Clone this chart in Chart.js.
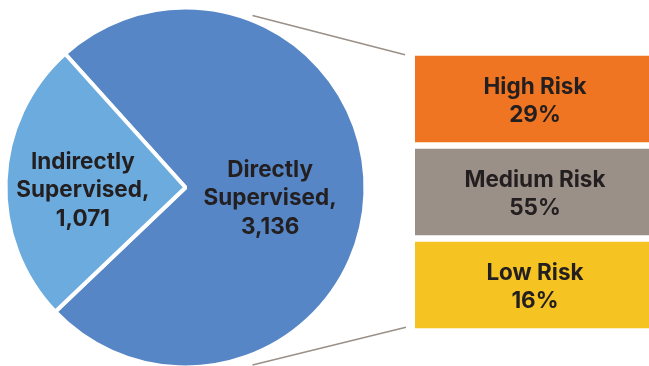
<!DOCTYPE html>
<html>
<head>
<meta charset="utf-8">
<script src="https://cdn.jsdelivr.net/npm/chart.js@4/dist/chart.umd.min.js"></script>
<style>
  html, body { margin: 0; padding: 0; background: #fff; }
  #wrap { position: relative; width: 649px; height: 366px; overflow: hidden; background: #fff; }
  #supervision-chart { position: absolute; left: 0; top: 0; }
  #risk-chart { position: absolute; left: 415px; top: 0; }
</style>
</head>
<body>
<div id="wrap">
  <canvas id="supervision-chart" width="649" height="375"></canvas>
  <canvas id="risk-chart" width="240" height="366"></canvas>
</div>
<script>
// Supervision split
const supervisionLabels = [['Directly', 'Supervised,'], ['Indirectly', 'Supervised,']];
const supervisionCounts = [3136, 1071];
const supervisionColors = ['#5686c6', '#6babde'];

// Risk breakdown of the directly supervised group (percent)
const riskLabels = ['High Risk', 'Medium Risk', 'Low Risk'];
const riskShare = [29, 55, 16];
const riskColors = ['#ef7522', '#9a9087', '#f5c322'];

const FONT = '"Inter", "DejaVu Sans", sans-serif';
const TEXT_COLOR = '#231f20';
const LINE_H = 28.5;

function drawLines(ctx, lines, x, y) {
  const start = y - (lines.length - 1) * LINE_H / 2;
  lines.forEach((line, i) => ctx.fillText(line, x, start + i * LINE_H));
}

// Risk boxes: one full-width band per category, text inside
const riskBoxText = {
  id: 'riskBoxText',
  afterDatasetsDraw(chart) {
    const ctx = chart.ctx;
    const bars = chart.getDatasetMeta(0).data;
    ctx.save();
    ctx.font = 'bold 22.5px ' + FONT;
    ctx.fillStyle = TEXT_COLOR;
    ctx.textAlign = 'center';
    ctx.textBaseline = 'middle';
    bars.forEach((bar, i) => {
      const cx = (bar.x + bar.base) / 2;
      drawLines(ctx, [riskLabels[i], riskShare[i] + '%'], cx, bar.y + 2);
    });
    ctx.restore();
  }
};

const riskChart = new Chart(document.getElementById('risk-chart'), {
  type: 'bar',
  data: {
    labels: riskLabels,
    datasets: [{
      data: riskShare.map(() => [0, 1]),
      backgroundColor: riskColors,
      borderWidth: 0,
      borderSkipped: false,
      barPercentage: 0.93,
      categoryPercentage: 1
    }]
  },
  options: {
    indexAxis: 'y',
    responsive: false,
    animation: false,
    events: [],
    layout: { padding: { top: 52.5, bottom: 34.5, left: 0, right: 0 } },
    scales: {
      x: { display: false, min: 0, max: 1 },
      y: { display: false }
    },
    plugins: { legend: { display: false }, tooltip: { enabled: false } }
  },
  plugins: [riskBoxText]
});

// Slice labels and the connector lines toward the risk boxes
const pieExtras = {
  id: 'pieExtras',
  afterDatasetsDraw(chart) {
    const ctx = chart.ctx;
    const arcs = chart.getDatasetMeta(0).data;
    const cx = arcs[0].x;
    const cy = arcs[0].y;
    const r = arcs[0].outerRadius;
    const offsets = [[0.47, 0.06], [-0.57, 0.017]];

    ctx.save();
    ctx.font = 'bold 22.5px ' + FONT;
    ctx.fillStyle = TEXT_COLOR;
    ctx.textAlign = 'center';
    ctx.textBaseline = 'middle';
    arcs.forEach((arc, i) => {
      const lines = supervisionLabels[i].concat(supervisionCounts[i].toLocaleString('en-US'));
      drawLines(ctx, lines, cx + offsets[i][0] * r, cy + offsets[i][1] * r);
    });

    const bars = riskChart.getDatasetMeta(0).data;
    const boxLeft = riskChart.canvas.offsetLeft + riskChart.chartArea.left;
    const boxTop = bars[0].y - bars[0].height / 2;
    const boxBottom = bars[bars.length - 1].y + bars[bars.length - 1].height / 2;

    ctx.strokeStyle = '#9a9087';
    ctx.lineWidth = 1.5;
    ctx.beginPath();
    ctx.moveTo(cx + 67, cy - 172);
    ctx.lineTo(boxLeft - 10, boxTop - 1);
    ctx.moveTo(cx + 67, cy + 177.5);
    ctx.lineTo(boxLeft - 9, boxBottom - 1);
    ctx.stroke();
    ctx.restore();
  }
};

new Chart(document.getElementById('supervision-chart'), {
  type: 'pie',
  data: {
    labels: supervisionLabels.map(l => l.join(' ')),
    datasets: [{
      data: supervisionCounts,
      backgroundColor: supervisionColors,
      borderColor: '#ffffff',
      borderWidth: 4
    }]
  },
  options: {
    responsive: false,
    animation: false,
    events: [],
    rotation: -42,
    layout: { padding: { top: 0, bottom: 0, left: 3.5, right: 281.5 } },
    plugins: { legend: { display: false }, tooltip: { enabled: false } }
  },
  plugins: [pieExtras]
});
</script>
</body>
</html>
